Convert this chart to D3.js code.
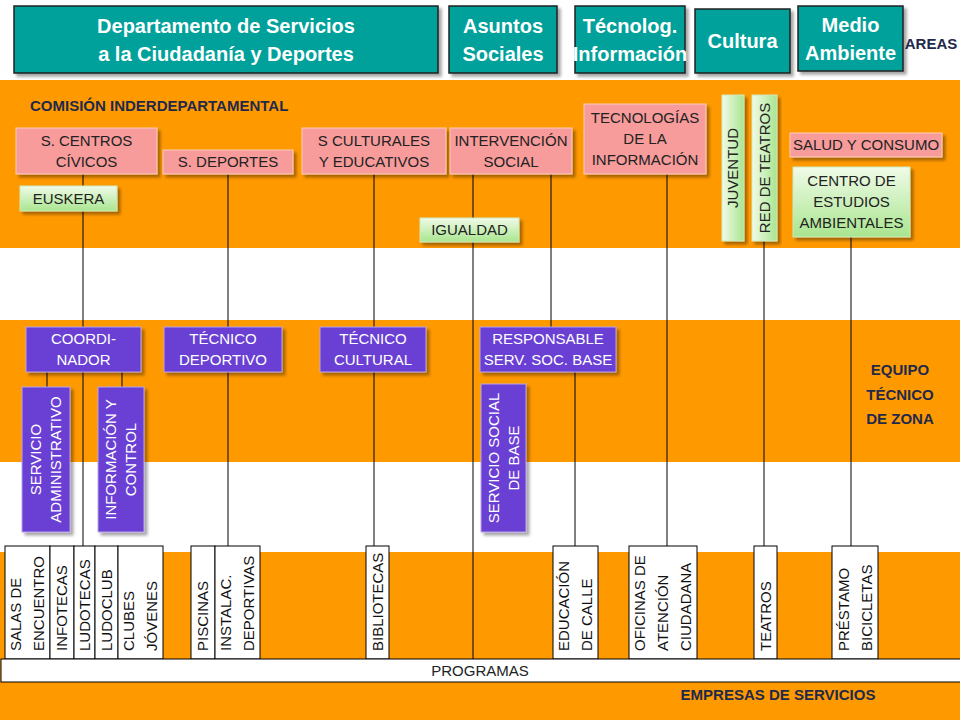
<!DOCTYPE html>
<html><head><meta charset="utf-8">
<script src="https://cdn.jsdelivr.net/npm/d3@7"></script>
<style>body{margin:0;background:#fff}text{font-family:"Liberation Sans",Arial,sans-serif}</style>
</head><body><svg id="c" width="960" height="720"></svg>
<script>
// ---- content ----
const areas = [["Departamento de Servicios","a la Ciudadanía y Deportes"],["Asuntos","Sociales"],["Técnolog.","Información"],["Cultura"],["Medio","Ambiente"]];
const servicios = [["S. CENTROS","CÍVICOS"],["S. DEPORTES"],["S CULTURALES","Y EDUCATIVOS"],["INTERVENCIÓN","SOCIAL"],["TECNOLOGÍAS","DE LA","INFORMACIÓN"],["SALUD Y CONSUMO"]];
const transversales = [["EUSKERA"],["IGUALDAD"],["CENTRO DE","ESTUDIOS","AMBIENTALES"]];
const transVert = [["JUVENTUD"],["RED DE TEATROS"]];
const tecnicos = [["COORDI-","NADOR"],["TÉCNICO","DEPORTIVO"],["TÉCNICO","CULTURAL"],["RESPONSABLE","SERV. SOC. BASE"]];
const apoyo = [["SERVICIO","ADMINISTRATIVO"],["INFORMACIÓN Y","CONTROL"],["SERVICIO SOCIAL","DE BASE"]];
const programas = [["SALAS DE","ENCUENTRO"],["INFOTECAS"],["LUDOTECAS"],["LUDOCLUB"],["CLUBES","JÓVENES"],["PISCINAS"],["INSTALAC.","DEPORTIVAS"],["BIBLIOTECAS"],["EDUCACIÓN","DE CALLE"],["OFICINAS DE","ATENCIÓN","CIUDADANA"],["TEATROS"],["PRÉSTAMO","BICICLETAS"]];
// ---- layout ----
const areaPos=[[14,6,424,67],[449,6,108,67],[575,6,110,67],[695,9,95,64],[798,6,105,65]];
const servPos=[[16,128,141,46],[163,150,130,24],[302,128,144,46],[450,128,122,46],[584,104,122,70],[790,133,152,24]];
const transPos=[[20,186,97,25],[420,218,99,24],[793,167,117,70]];
const transVPos=[[722,95,22,146],[752,95,25,146]];
const tecPos=[[26,327,115,45],[164,327,118,45],[320,327,106,45],[480,327,136,45]];
const apoyoPos=[[22,387,48,145],[98,387,46,145],[481,384,45,148]];
const progPos=[[5,50],[50,74],[74,95],[95,118],[118,163],[191,215],[215,260],[366,389],[553,598],[629,697],[754,777],[832,878]];
const lines=[[83,174,83,546],[47,372,47,387],[122,372,122,387],[228,174,228,546],[374,174,374,546],[473,174,473,659],[551,174,551,327],[575,372,575,553],[667,174,667,546],[764,241,764,546],[851,237,851,546]];
const bands=[[80,168],[320,142],[552,168]];

const svg=d3.select("#c");
const defs=svg.append("defs");
const f=defs.append("filter").attr("id","sh").attr("x","-10%").attr("y","-10%").attr("width","130%").attr("height","140%");
f.append("feDropShadow").attr("dx",3).attr("dy",3).attr("stdDeviation",1.5).attr("flood-color","#000").attr("flood-opacity",0.35);
const g1=defs.append("linearGradient").attr("id","gr").attr("x1",0).attr("y1",0).attr("x2",0).attr("y2",1);
g1.append("stop").attr("offset",0).attr("stop-color","#f0fbe8");g1.append("stop").attr("offset",1).attr("stop-color","#a9e58f");
const g2=defs.append("linearGradient").attr("id","grv").attr("x1",0).attr("y1",0).attr("x2",1).attr("y2",0);
g2.append("stop").attr("offset",0).attr("stop-color","#f0fbe8");g2.append("stop").attr("offset",1).attr("stop-color","#a9e58f");

svg.selectAll("rect.band").data(bands).join("rect").attr("x",0).attr("y",d=>d[0]).attr("width",960).attr("height",d=>d[1]).attr("fill","#ff9900");

svg.selectAll("line.l").data(lines).join("line").attr("x1",d=>d[0]).attr("y1",d=>d[1]).attr("x2",d=>d[2]).attr("y2",d=>d[3]).attr("stroke","#000").attr("stroke-width",1);

function boxes(data,pos,fill,stroke,col,size,weight,lh,filter){
  const g=svg.append("g").selectAll("g").data(data).join("g");
  g.append("rect").attr("x",(d,i)=>pos[i][0]).attr("y",(d,i)=>pos[i][1]).attr("width",(d,i)=>pos[i][2]).attr("height",(d,i)=>pos[i][3])
   .attr("fill",fill).attr("stroke",stroke).attr("stroke-width",stroke=="#222"?1.5:1).attr("filter",filter?"url(#sh)":null);
  g.each(function(d,i){
    const p=pos[i],cx=p[0]+p[2]/2,cy=p[1]+p[3]/2;
    d.forEach((t,j)=>d3.select(this).append("text").attr("x",cx).attr("y",cy+(j-(d.length-1)/2)*lh).attr("dy","0.35em")
      .attr("text-anchor","middle").attr("fill",col).attr("font-size",size).attr("font-weight",weight).text(t));
  });
}
function vboxes(data,pos,fill,stroke,col,size,lh,filter){
  const g=svg.append("g").selectAll("g").data(data).join("g");
  g.append("rect").attr("x",(d,i)=>pos[i][0]).attr("y",(d,i)=>pos[i][1]).attr("width",(d,i)=>pos[i][2]).attr("height",(d,i)=>pos[i][3])
   .attr("fill",fill).attr("stroke",stroke).attr("filter",filter?"url(#sh)":null);
  g.each(function(d,i){
    const p=pos[i],cx=p[0]+p[2]/2,cy=p[1]+p[3]/2;
    d.forEach((t,j)=>d3.select(this).append("text").attr("transform",`translate(${cx+(j-(d.length-1)/2)*lh},${cy}) rotate(-90)`).attr("dy","0.35em")
      .attr("text-anchor","middle").attr("fill",col).attr("font-size",size).text(t));
  });
}
boxes(areas,areaPos,"#00a19b","#222","#fff",20,"bold",28,true);
boxes(servicios,servPos,"#f79b9b","#fcd0c0","#222",15,"normal",21,true);
boxes(transversales,transPos,"url(#gr)","#cfe9c0","#222",15,"normal",21,true);
vboxes(transVert,transVPos,"url(#grv)","#cfe9c0","#222",15,20,true);
boxes(tecnicos,tecPos,"#6b3fd4","#b9a6e6","#fff",15,"normal",21,true);
vboxes(apoyo,apoyoPos,"#6b3fd4","#b9a6e6","#fff",15,20,true);

// programas
const pg=svg.append("g").selectAll("g").data(programas).join("g");
pg.append("rect").attr("x",(d,i)=>progPos[i][0]).attr("y",546).attr("width",(d,i)=>progPos[i][1]-progPos[i][0]).attr("height",113).attr("fill","#fff").attr("stroke","#000");
pg.each(function(d,i){
  const p=progPos[i],cx=(p[0]+p[1])/2;
  d.forEach((t,j)=>d3.select(this).append("text").attr("transform",`translate(${cx+(j-(d.length-1)/2)*23},651) rotate(-90)`).attr("dy","0.35em")
    .attr("fill","#111").attr("font-size",15).text(t));
});
svg.append("rect").attr("x",1).attr("y",659).attr("width",962).attr("height",23).attr("fill","#fff").attr("stroke","#000");
svg.append("text").attr("x",480).attr("y",671).attr("dy","0.35em").attr("text-anchor","middle").attr("font-size",15).attr("fill","#222").text("PROGRAMAS");

const lab=(x,y,t,a)=>svg.append("text").attr("x",x).attr("y",y).attr("dy","0.35em").attr("text-anchor",a).attr("font-size",15).attr("font-weight","bold").attr("fill","#1f2a4a").text(t);
lab(30,106,"COMISIÓN INDERDEPARTAMENTAL","start");
lab(931,44,"AREAS","middle");
lab(900,370,"EQUIPO","middle");lab(900,395,"TÉCNICO","middle");lab(900,419,"DE ZONA","middle");
lab(778,695,"EMPRESAS DE SERVICIOS","middle");
</script></body></html>
